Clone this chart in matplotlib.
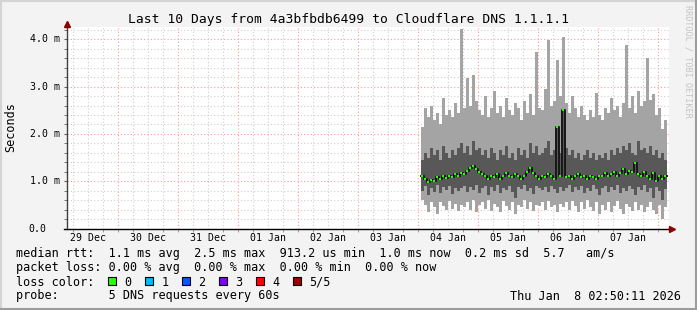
import numpy as np
import matplotlib
matplotlib.use("Agg")
import matplotlib.pyplot as plt
from matplotlib import patches
from matplotlib.lines import Line2D

# days counted from 29 Dec 00:00, one sample every 72 minutes from 04 Jan 01:12
t_start = 6.05
t_step = 0.05

light_top = [2.15, 2.55, 2.35, 2.60, 2.30, 2.45, 2.20, 2.75, 2.40, 2.50, 2.35, 2.65, 2.45,
             4.22,
             2.55, 3.18, 2.60, 3.24, 2.70, 2.50,
             2.40, 2.80, 2.35, 2.55, 2.90, 2.45, 2.60, 2.35, 2.75, 2.50, 2.40, 2.65, 2.55, 2.30, 2.70, 2.45, 2.85, 2.40, 3.73, 2.55,
             2.50, 2.95, 3.98, 2.60, 2.70,
             3.56, 2.80, 4.05,
             2.65, 2.45, 2.80, 2.55, 2.35, 2.60, 2.40, 2.30, 2.50, 2.35, 2.86, 2.40,
             2.30, 2.55, 2.45, 2.75, 2.50, 2.60, 2.35, 2.65, 3.87, 2.55, 2.80, 2.45, 2.90, 2.60, 2.70, 3.60, 2.72, 2.85, 2.40, 2.55, 2.10, 2.30]
light_bot = [0.60, 0.50, 0.35, 0.55, 0.45, 0.30, 0.55, 0.48, 0.40, 0.58, 0.42, 0.52, 0.38,
             0.50,
             0.45, 0.55, 0.40, 0.60, 0.35, 0.50,
             0.55, 0.42, 0.60, 0.38, 0.52, 0.45, 0.35, 0.58, 0.48, 0.40, 0.55, 0.30, 0.50, 0.45, 0.60, 0.42, 0.55, 0.38, 0.50, 0.48,
             0.55, 0.40, 0.58, 0.45, 0.50,
             0.35, 0.52, 0.45,
             0.55, 0.40, 0.58, 0.48, 0.35, 0.55, 0.42, 0.60, 0.45, 0.38, 0.55, 0.30,
             0.50, 0.40, 0.55, 0.35, 0.48, 0.58, 0.42, 0.30, 0.52, 0.45, 0.38, 0.55, 0.40, 0.50, 0.35, 0.45, 0.55, 0.40, 0.30, 0.50, 0.20, 0.45]
dark_top = [1.45, 1.60, 1.50, 1.70, 1.55, 1.65, 1.45, 1.75, 1.60, 1.50, 1.65, 1.55, 1.70,
            1.80,
            1.60, 1.75, 1.55, 1.85, 1.65, 1.70,
            1.55, 1.65, 1.50, 1.70, 1.60, 1.45, 1.65, 1.55, 1.75, 1.50, 1.60, 1.45, 1.70, 1.55, 1.65, 1.50, 1.80, 1.60, 1.75, 1.55,
            1.60, 1.70, 1.85, 1.55, 1.65,
            2.15, 1.60, 2.50,
            1.70, 1.55, 1.65, 1.50, 1.60, 1.45, 1.55, 1.65, 1.50, 1.60, 1.45, 1.55,
            1.50, 1.60, 1.45, 1.65, 1.55, 1.70, 1.60, 1.75, 1.65, 1.80, 1.60, 1.55, 1.85, 1.65, 1.70, 1.60, 1.75, 1.55, 1.65, 1.50, 1.60, 1.45]
dark_bot = [0.80, 0.90, 0.70, 0.85, 0.78, 0.92, 0.75, 0.88, 0.82, 0.90, 0.72, 0.86, 0.80,
            0.85,
            0.90, 0.78, 0.88, 0.82, 0.92, 0.75,
            0.85, 0.90, 0.70, 0.88, 0.80, 0.92, 0.75, 0.86, 0.82, 0.90, 0.78, 0.65, 0.88, 0.84, 0.92, 0.80, 0.86, 0.72, 0.90, 0.85,
            0.82, 0.88, 0.78, 0.90, 0.84,
            0.75, 0.88, 0.80,
            0.86, 0.92, 0.78, 0.88, 0.82, 0.90, 0.76, 0.86, 0.80, 0.92, 0.84, 0.70,
            0.85, 0.90, 0.78, 0.88, 0.82, 0.92, 0.75, 0.86, 0.80, 0.90, 0.84, 0.70, 0.88, 0.82, 0.92, 0.78, 0.86, 0.65, 0.88, 0.80, 0.60, 0.84]
median = [1.12, 1.05, 0.98, 1.02, 1.00, 1.08, 1.05, 1.10, 1.06, 1.12, 1.08, 1.15, 1.10,
          1.18,
          1.15, 1.22, 1.28, 1.32, 1.25, 1.20,
          1.15, 1.10, 1.05, 1.12, 1.08, 1.15, 1.05, 1.10, 1.18, 1.12, 1.08, 1.15, 1.10, 1.05, 1.12, 1.20, 1.28, 1.18, 1.10, 1.05,
          1.12, 1.08, 1.15, 1.10, 1.05,
          2.15, 1.10, 2.50,
          1.08, 1.12, 1.05, 1.10, 1.15, 1.08, 1.12, 1.05, 1.10, 1.08, 1.05, 1.10,
          1.12, 1.18, 1.10, 1.15, 1.20, 1.12, 1.18, 1.25, 1.15, 1.22, 1.20, 1.38, 1.15, 1.10, 1.20, 1.12, 1.05, 1.18, 1.00, 1.10, 1.05, 1.12]

day_labels = ['29 Dec', '30 Dec', '31 Dec', '01 Jan', '02 Jan', '03 Jan', '04 Jan', '05 Jan', '06 Jan', '07 Jan']
y_labels = ['0.0', '1.0 m', '2.0 m', '3.0 m', '4.0 m']
loss_names = ['0', '1', '2', '3', '4', '5/5']
loss_colors = ['#26ff00', '#00b8ff', '#0059ff', '#7e00ff', '#ff0000', '#a10000']

row1 = "median rtt:  1.1 ms avg  2.5 ms max  913.2 us min  1.0 ms now  0.2 ms sd  5.7   am/s"
row2 = "packet loss: 0.00 % avg  0.00 % max  0.00 % min  0.00 % now"
row4 = "probe:       5 DNS requests every 60s"
stamp = "Thu Jan  8 02:50:11 2026"
title = "Last 10 Days from 4a3bfbdb6499 to Cloudflare DNS 1.1.1.1"

MONO = 'DejaVu Sans Mono'
W, H = 697, 310

def fx(x):
    return x / W

def fy(y):
    return 1 - y / H

fig = plt.figure(figsize=(W / 100, H / 100), dpi=100, facecolor='#f3f3f3')
ax = fig.add_axes([fx(67), fy(228.5), 602 / W, 201.5 / H])
ax.set_facecolor('white')
ax.set_xlim(0.15, 10.183)
ax.set_ylim(0, 4.26)
for s in ax.spines.values():
    s.set_visible(False)

# grid, rrdtool style
for v in np.arange(0.2, 4.26, 0.2):
    major = abs(v - round(v)) < 1e-6
    ax.axhline(v, color='#ff9a9a' if major else '#cfcfcf', lw=0.8, ls=(0, (1, 2)), zorder=0)
for d in np.arange(0.25, 10.18, 0.25):
    major = abs(d - round(d)) < 1e-6
    ax.axvline(d, color='#ff9a9a' if major else '#cfcfcf', lw=0.8, ls=(0, (1, 2)), zorder=0)

n = len(median)
t = t_start + t_step * np.arange(n)
edges = t_start + t_step * np.arange(n + 1)

def ext(v):
    return np.append(v, v[-1])

ax.fill_between(edges, ext(light_bot), ext(light_top), step='post', color='#a4a4a4', lw=0, zorder=2)
ax.fill_between(edges, ext(dark_bot), ext(dark_top), step='post', color='#585858', lw=0, zorder=3)
ax.step(edges, ext(median), where='post', color='#181818', lw=1.4, zorder=4)
ax.plot(t + t_step * 0.3, median, 's', ms=1.7, color='#26ff00', mew=0, zorder=5)

# ticks
ax.set_xticks(np.arange(0.5, 10, 1.0), labels=day_labels)
ax.set_xticks(np.arange(0.25, 10.18, 0.25), minor=True)
ax.tick_params(axis='x', which='major', length=0, pad=3, labelsize=7.1)
ax.tick_params(axis='x', which='minor', length=2, color='#909090')
ax.set_yticks(range(5), labels=[''] * 5)
ax.set_yticks(np.arange(0, 4.26, 0.2), minor=True)
ax.tick_params(axis='y', which='both', length=2, color='#606060')
for lab in ax.get_xticklabels():
    lab.set_family(MONO)
for v, lab in zip(range(5), y_labels):
    off = -7 if lab.endswith('m') else -21
    ax.annotate(lab, xy=(0, v), xycoords=('axes fraction', 'data'), xytext=(off, 0),
                textcoords='offset pixels', ha='right', va='center', fontsize=7.1, family=MONO)

# axes with arrows
ax.plot([0, 0], [0, 1 + 5 / 201.5], transform=ax.transAxes, color='#404040', lw=1, clip_on=False, zorder=6)
ax.plot([-3 / 602, 1 + 3 / 602], [0, 0], transform=ax.transAxes, color='black', lw=1, clip_on=False, zorder=6)
ax.plot([0], [1 + 3.5 / 201.5], marker='^', ms=5, color='#8b0000', transform=ax.transAxes, clip_on=False, zorder=7)
ax.plot([1 + 3 / 602], [0], marker='>', ms=5, color='#8b0000', transform=ax.transAxes, clip_on=False, zorder=7)

# texts
fig.text(fx(348), fy(19), title, ha='center', va='center', fontsize=9.4, family=MONO)
fig.text(fx(10.5), fy(127), 'Seconds', ha='center', va='center', rotation=90, fontsize=8.5, family=MONO)
fig.text(fx(688), fy(5), 'RRDTOOL / TOBI OETIKER', ha='center', va='top', rotation=-90,
         fontsize=6.1, family=MONO, color='#c4c4c4')
fig.text(fx(16), fy(254), row1, ha='left', va='center', fontsize=8.5, family=MONO)
fig.text(fx(16), fy(268), row2, ha='left', va='center', fontsize=8.5, family=MONO)
fig.text(fx(16), fy(282), 'loss color:', ha='left', va='center', fontsize=8.5, family=MONO)
fig.text(fx(16), fy(296), row4, ha='left', va='center', fontsize=8.5, family=MONO)
fig.text(fx(681), fy(296), stamp, ha='right', va='center', fontsize=8.5, family=MONO)
for k, (name, col) in enumerate(zip(loss_names, loss_colors)):
    bx = 108.3 + 37 * k
    fig.add_artist(patches.Rectangle((fx(bx), fy(285)), 8 / W, 8 / H, transform=fig.transFigure,
                                     fc=col, ec='black', lw=0.8))
    fig.text(fx(bx + 16), fy(282), name, ha='left', va='center', fontsize=8.5, family=MONO)

# frame
fig.add_artist(Line2D([0, 1], [fy(1), fy(1)], transform=fig.transFigure, color='#d4d4d4', lw=1.5))
fig.add_artist(Line2D([fx(1), fx(1)], [0, 1], transform=fig.transFigure, color='#d4d4d4', lw=1.5))
fig.add_artist(Line2D([0, 1], [fy(309), fy(309)], transform=fig.transFigure, color='#9c9c9c', lw=1.5))
fig.add_artist(Line2D([fx(696), fx(696)], [0, 1], transform=fig.transFigure, color='#9c9c9c', lw=1.5))

fig.savefig('out.png', dpi=100, facecolor=fig.get_facecolor())
